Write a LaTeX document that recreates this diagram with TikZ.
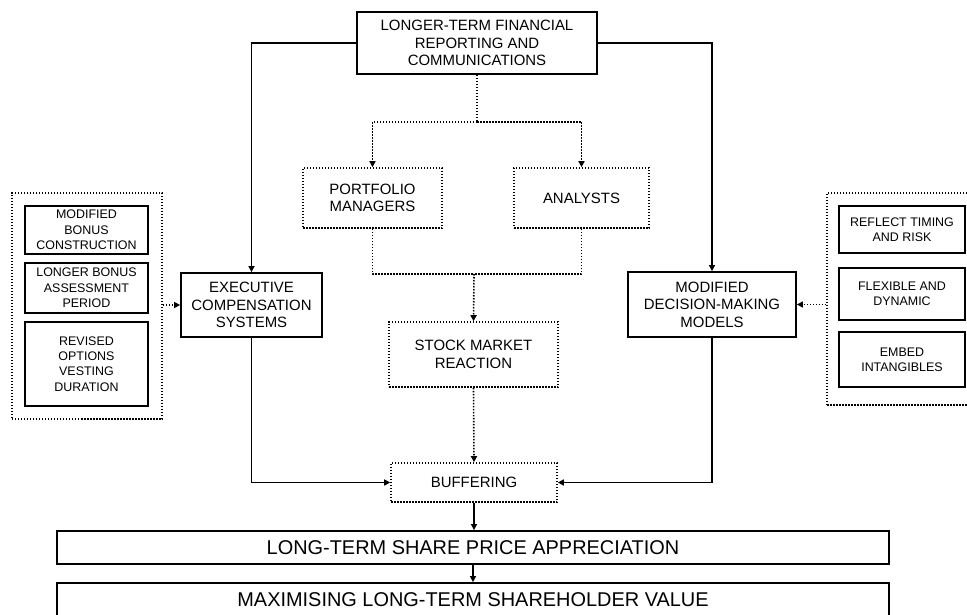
\documentclass[tikz,border=0pt]{standalone}
\usepackage{fontspec}
\setmainfont{Liberation Sans}
\usetikzlibrary{arrows.meta}
\tikzset{
  box/.style={draw, line width=1.8bp, align=center, inner sep=0pt, font=\fontsize{15}{17.7}\selectfont},
  dbox/.style={box, dash pattern=on 1.5bp off 1.5bp, line width=1.6bp},
  smallbox/.style={box, font=\fontsize{12.5}{15.4}\selectfont},
  bar/.style={box, font=\fontsize{20}{24}\selectfont},
  grp/.style={draw, dash pattern=on 1.5bp off 1.5bp, line width=1.6bp, inner sep=0pt},
  conn/.style={line width=1.8bp, -{Triangle[length=6bp,width=6bp]}},
  dconn/.style={conn, dash pattern=on 1.5bp off 1.5bp, line width=1.6bp},
  dline/.style={dash pattern=on 1.5bp off 1.5bp, line width=1.6bp}
}
\begin{document}
\begin{tikzpicture}[x=1bp,y=-1bp]
\useasboundingbox (0,0) rectangle (967,615);
\clip (0,0) rectangle (967,615);
% main nodes
\node[box, minimum width=240bp, minimum height=62bp] (top) at (477,43) {LONGER-TERM FINANCIAL\\REPORTING AND\\COMMUNICATIONS};
\node[box, minimum width=141bp, minimum height=64bp] (exec) at (251.5,305) {EXECUTIVE\\COMPENSATION\\SYSTEMS};
\node[box, minimum width=168bp, minimum height=65bp] (model) at (712,304.5) {MODIFIED\\DECISION-MAKING\\MODELS};
\node[dbox, minimum width=139bp, minimum height=60bp] (port) at (372.5,198) {PORTFOLIO\\MANAGERS};
\node[dbox, minimum width=135bp, minimum height=60bp] (anal) at (581.5,198) {ANALYSTS};
\node[dbox, minimum width=169bp, minimum height=65bp] (stock) at (473.5,354.5) {STOCK MARKET\\REACTION};
\node[dbox, minimum width=166bp, minimum height=39bp] (buff) at (474,482.5) {BUFFERING};
\node[bar, minimum width=832bp, minimum height=33bp] (ltspa) at (473,547.5) {LONG-TERM SHARE PRICE APPRECIATION};
\node[bar, minimum width=832bp, minimum height=34bp] (mltsv) at (473,600) {MAXIMISING LONG-TERM SHAREHOLDER VALUE};
% left group
\node[grp, minimum width=150bp, minimum height=226bp] (lo) at (87,306) {};
\node[smallbox, minimum width=123bp, minimum height=48bp] (l1) at (86.5,230) {MODIFIED\\BONUS\\CONSTRUCTION};
\node[smallbox, minimum width=123bp, minimum height=50bp] (l2) at (86.5,288) {LONGER BONUS\\ASSESSMENT\\PERIOD};
\node[smallbox, minimum width=123bp, minimum height=84bp] (l3) at (86.5,364) {REVISED\\OPTIONS\\VESTING\\DURATION};
% right group
\node[grp, minimum width=180bp, minimum height=212bp] (ro) at (917,299) {};
\node[smallbox, minimum width=126bp, minimum height=47bp] (r1) at (902,229.5) {REFLECT TIMING\\AND RISK};
\node[smallbox, minimum width=126bp, minimum height=52bp] (r2) at (902,294) {FLEXIBLE AND\\DYNAMIC};
\node[smallbox, minimum width=126bp, minimum height=55bp] (r3) at (902,359.5) {EMBED\\INTANGIBLES};
% junctions
\coordinate (j1) at (477,122);
\coordinate (j2) at (474,274);
% solid connectors
\draw[conn] (top.west) -| (exec.north);
\draw[conn] (top.east) -| (model.north);
\draw[conn] (exec.south) |- (buff.west);
\draw[conn] (model.south) |- (buff.east);
\draw[conn] (buff.south) -- (buff.south |- ltspa.north);
\draw[conn] (ltspa.south) -- (ltspa.south |- mltsv.north);
% dotted connectors
\draw[dline] (top.south) -- (j1);
\draw[dconn] (j1) -| (port.north);
\draw[dconn] (j1) -| (anal.north);
\draw[dline] (port.south) |- (j2);
\draw[dline] (anal.south) |- (j2);
\draw[dconn] (j2) -- (stock.north);
\draw[dconn] (stock.south) -- (buff.north);
\draw[dconn] (lo.east |- exec.west) -- (exec.west);
\draw[dconn] (ro.west |- model.east) -- (model.east);
\end{tikzpicture}
\end{document}
